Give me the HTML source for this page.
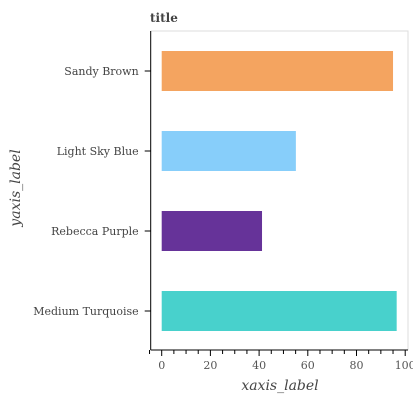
<!DOCTYPE html>
<html><head><style>
body{margin:0;background:#fff;font-family:"DejaVu Serif","Liberation Serif",serif;}
</style></head><body>
<svg width="413" height="400" xmlns="http://www.w3.org/2000/svg">
<text x="150" y="22" font-size="12" fill="#444" font-weight="bold">title</text>
<polyline points="150.7,31 408,31 408,350" fill="none" stroke="#ddd"/>
<g id="bars"></g>
<g id="axes"></g>
<text x="280" y="390" font-size="14" fill="#444" font-style="italic" text-anchor="middle">xaxis_label</text>
<text transform="translate(20,188) rotate(-90)" font-size="14" fill="#444" font-style="italic" text-anchor="middle">yaxis_label</text>
</svg>
<script>
const categories=["Medium Turquoise","Rebecca Purple","Light Sky Blue","Sandy Brown"];
const values=[96.5,41.2,55.1,95];
const colors=["#48d1cc","#663399","#87cefa","#f4a460"];
const ticks=[0,20,40,60,80,100];
const NS="http://www.w3.org/2000/svg";
const x0=161.7,k=2.435,bottom=351,band=80,bh=40,axisX=150.7;
const xs=v=>x0+v*k;
const yc=i=>bottom-band*(i+0.5);
function mk(t,a,p){const e=document.createElementNS(NS,t);for(const n in a)e.setAttribute(n,a[n]);p.appendChild(e);return e;}
const bars=document.getElementById('bars'),axes=document.getElementById('axes');
categories.forEach((c,i)=>{
 const r=mk('rect',{x:x0,y:yc(i)-bh/2,width:xs(values[i])-x0,height:bh,fill:colors[i]},bars);
 
 
 const t=mk('line',{x1:axisX-6,x2:axisX,y1:yc(i),y2:yc(i),stroke:'#000'},axes);
 
 
 const l=mk('text',{x:axisX-12,y:yc(i)+4,'font-size':11,fill:'#444','text-anchor':'end'},axes);
 l.textContent=c;
 
 
});
const ya=mk('line',{x1:axisX,x2:axisX,y1:31,y2:350,stroke:'#000'},axes);


const xa=mk('line',{x1:axisX,x2:408,y1:350,y2:350,stroke:'#000'},axes);


for(let v=-5;v<=100;v+=5){
 const big=v%20===0;
 const t=mk('line',{x1:xs(v),x2:xs(v),y1:350,y2:350+(big?6:4),stroke:'#000'},axes);
 
 
}
ticks.forEach(v=>{
 const l=mk('text',{x:xs(v),y:369,'font-size':11,fill:'#555','text-anchor':'middle'},axes);
 l.textContent=v;
 
 
});
</script>
</body></html>
